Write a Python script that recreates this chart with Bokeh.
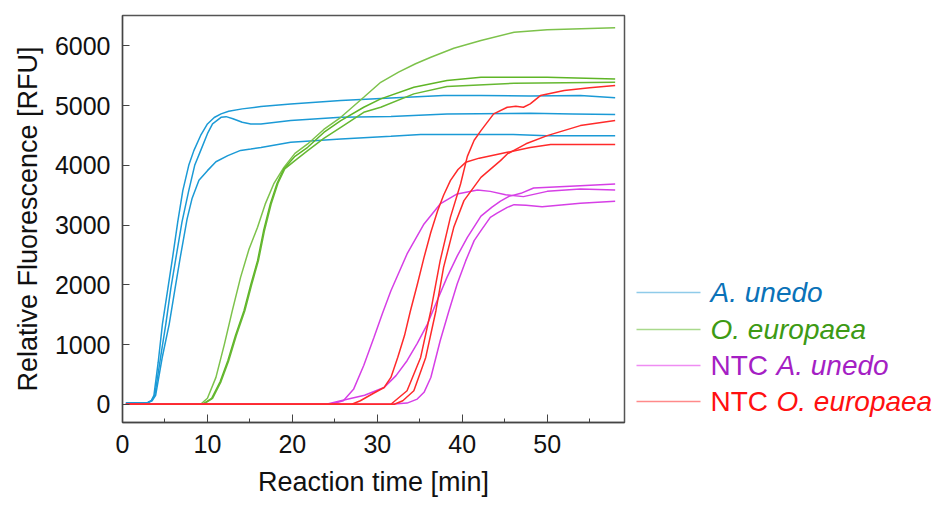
from bokeh.plotting import figure
from bokeh.layouts import row
from bokeh.models import Range1d, SingleIntervalTicker
from bokeh.core.properties import value
from bokeh.embed import file_html
from bokeh.resources import INLINE

# ---- data (time in min, fluorescence in RFU) ----
au1_t = [0.4, 3.0, 3.4, 3.7, 4.2, 4.7, 5.3, 5.9, 6.5, 7.1, 7.8, 8.4, 9.2, 10.0, 10.8, 11.6, 12.5, 14.1, 16.3, 19.8, 25.7, 31.6, 37.8, 42.2, 48.0, 53.9, 58.0]
au1_f = [20, 30, 60, 150, 700, 1343, 1900, 2459, 3050, 3576, 4000, 4246, 4500, 4693, 4800, 4861, 4905, 4945, 4983, 5028, 5084, 5129, 5167, 5168, 5160, 5168, 5130]
au2_t = [0.4, 3.0, 3.4, 3.8, 4.5, 5.1, 5.7, 6.3, 7.0, 7.8, 8.5, 9.2, 10.0, 10.6, 11.6, 12.2, 13.0, 14.1, 15.1, 16.3, 19.8, 25.7, 31.6, 38.2, 48.0, 53.0, 58.0]
au2_f = [20, 30, 60, 150, 800, 1343, 1950, 2459, 3050, 3576, 4000, 4246, 4530, 4693, 4804, 4815, 4780, 4720, 4693, 4693, 4749, 4804, 4816, 4861, 4871, 4860, 4849]
au3_t = [0.4, 3.0, 3.5, 3.9, 4.7, 5.5, 6.2, 6.8, 7.6, 8.2, 9.0, 10.0, 11.0, 12.4, 13.9, 15.1, 16.3, 19.8, 25.7, 31.6, 35.1, 46.0, 50.0, 58.0]
au3_f = [20, 30, 60, 150, 800, 1343, 1950, 2459, 3100, 3450, 3750, 3911, 4060, 4162, 4250, 4274, 4300, 4386, 4442, 4486, 4514, 4514, 4497, 4497]

oe1_t = [0.4, 9.2, 10.0, 11.0, 12.0, 12.9, 13.9, 14.9, 15.9, 16.8, 17.8, 19.0, 20.3, 21.8, 23.7, 25.7, 28.4, 30.4, 32.5, 34.5, 36.3, 39.0, 42.2, 46.1, 50.0, 54.0, 58.0]
oe1_f = [0, 0, 100, 450, 1008, 1550, 2124, 2600, 2962, 3350, 3688, 3966, 4200, 4358, 4600, 4804, 5139, 5390, 5560, 5700, 5809, 5960, 6089, 6228, 6268, 6285, 6301]
oe2_t = [0.4, 9.4, 10.5, 11.5, 12.4, 13.3, 14.3, 15.1, 15.9, 16.6, 17.4, 18.2, 19.0, 20.3, 21.8, 23.7, 25.7, 28.4, 30.4, 34.3, 38.2, 42.2, 50.0, 58.0]
oe2_f = [0, 0, 100, 380, 729, 1150, 1566, 2000, 2404, 2900, 3353, 3700, 3940, 4150, 4302, 4550, 4749, 4972, 5112, 5307, 5419, 5474, 5474, 5447]
oe3_t = [0.4, 9.5, 10.6, 11.6, 12.5, 13.4, 14.4, 15.2, 16.0, 16.7, 17.5, 18.3, 19.1, 20.3, 21.8, 23.7, 25.7, 28.4, 30.4, 34.3, 38.2, 46.1, 58.0]
oe3_f = [0, 0, 100, 380, 729, 1150, 1566, 2000, 2404, 2900, 3353, 3700, 3940, 4080, 4246, 4450, 4637, 4888, 4972, 5196, 5318, 5374, 5390]

ntc_au1_t = [0.4, 24.5, 26.0, 27.2, 28.4, 29.6, 30.6, 31.6, 33.5, 35.5, 37.4, 39.4, 41.8, 43.3, 45.1, 47.2, 50.0, 53.9, 58.0]
ntc_au1_f = [0, 0, 60, 250, 650, 1119, 1520, 1901, 2516, 3018, 3353, 3521, 3588, 3564, 3509, 3476, 3564, 3605, 3588]
ntc_au2_t = [0.4, 24.0, 25.7, 28.5, 30.8, 32.2, 33.5, 34.7, 35.9, 37.0, 38.2, 39.4, 40.6, 42.2, 43.5, 44.5, 45.5, 46.9, 48.4, 53.9, 58.0]
ntc_au2_f = [0, 0, 59, 150, 281, 480, 729, 1020, 1343, 1720, 2124, 2480, 2794, 3150, 3300, 3400, 3480, 3531, 3621, 3660, 3688]
ntc_au3_t = [0.4, 31.6, 33.5, 34.7, 35.5, 36.3, 37.4, 38.4, 39.4, 40.4, 41.4, 42.2, 43.3, 44.1, 45.3, 46.1, 47.5, 49.4, 53.9, 58.0]
ntc_au3_f = [0, 0, 20, 87, 200, 449, 1064, 1550, 2013, 2400, 2739, 2906, 3129, 3200, 3296, 3342, 3330, 3308, 3364, 3397]

ntc_oe1_t = [0.4, 31.6, 33.5, 35.1, 36.3, 37.4, 38.6, 39.8, 40.6, 41.4, 42.2, 43.7, 45.3, 46.3, 47.2, 48.0, 49.2, 52.0, 55.0, 58.0]
ntc_oe1_f = [0, 0, 226, 784, 1566, 2404, 3129, 3688, 4150, 4420, 4581, 4861, 4972, 4990, 4972, 5028, 5168, 5251, 5300, 5335]
ntc_oe2_t = [0.4, 32.0, 33.0, 34.3, 35.7, 36.9, 37.8, 39.0, 40.2, 42.2, 44.5, 45.3, 47.5, 50.0, 53.9, 58.0]
ntc_oe2_f = [0, 0, 60, 226, 784, 1566, 2291, 2962, 3409, 3799, 4079, 4191, 4360, 4497, 4665, 4749]
ntc_oe3_t = [0.4, 27.0, 28.0, 29.5, 30.8, 31.6, 32.4, 33.2, 33.9, 34.7, 35.5, 36.3, 37.1, 37.8, 38.6, 39.5, 40.4, 42.0, 45.3, 48.0, 50.4, 58.0]
ntc_oe3_f = [0, 0, 59, 180, 281, 450, 784, 1150, 1566, 2000, 2459, 2880, 3241, 3500, 3744, 3930, 4050, 4120, 4218, 4300, 4347, 4347]

leg_prefix = ["", "", "NTC ", "NTC "]
leg_names = ["A. unedo", "O. europaea", "A. unedo", "O. europaea"]

FONT = "Liberation Sans"
H = 505
BT, BB = 15, 83  # top / bottom borders (frame spans y 15..422)
LW = 311

p = figure(width=632, height=H, x_range=Range1d(0, 59.1), y_range=Range1d(-305, 6508),
           output_backend="svg", toolbar_location=None,
           min_border_left=122, min_border_right=8, min_border_top=BT, min_border_bottom=BB)
p.xgrid.visible = False
p.ygrid.visible = False
p.outline_line_color = "#555555"
p.outline_line_width = 1.5

p.xaxis.ticker = SingleIntervalTicker(interval=10, num_minor_ticks=2)
p.yaxis.ticker = SingleIntervalTicker(interval=1000, num_minor_ticks=0)
for ax in (p.xaxis[0], p.yaxis[0]):
    ax.axis_line_color = "#444444"
    ax.axis_line_width = 1.3
    ax.major_tick_line_color = "#444444"
    ax.minor_tick_line_color = "#444444"
    ax.major_tick_out = 0
    ax.minor_tick_out = 0
    ax.minor_tick_in = 4
    ax.major_label_text_font = FONT
    ax.major_label_text_font_size = "25px"
    ax.major_label_text_color = "#111111"
    ax.axis_label_text_font = FONT
    ax.axis_label_text_font_size = "27px"
    ax.axis_label_text_font_style = "normal"
    ax.axis_label_text_color = "#111111"
    ax.major_label_standoff = 12
p.xaxis.major_tick_in = 8
p.yaxis.major_tick_in = 7
p.xaxis.axis_label = "Reaction time [min]"
p.yaxis.axis_label = "Relative Fluorescence [RFU]"
p.xaxis.axis_label_standoff = 11
p.yaxis.axis_label_standoff = 9

blue = "#1b9ad6"
series = [
    (au1_t, au1_f, blue), (au2_t, au2_f, blue), (au3_t, au3_f, blue),
    (oe1_t, oe1_f, "#7dc24b"), (oe2_t, oe2_f, "#5fb526"), (oe3_t, oe3_f, "#66b832"),
    (ntc_au1_t, ntc_au1_f, "#d63fe6"), (ntc_au2_t, ntc_au2_f, "#d63fe6"), (ntc_au3_t, ntc_au3_f, "#d63fe6"),
    (ntc_oe1_t, ntc_oe1_f, "#ff2a2a"), (ntc_oe2_t, ntc_oe2_f, "#ff2a2a"), (ntc_oe3_t, ntc_oe3_f, "#ff2a2a"),
]
for t, f, c in series:
    p.line(t, f, line_color=c, line_width=1.5)

# ---- legend panel (coordinates equal page pixels) ----
lf = figure(width=LW, height=H, x_range=Range1d(632, 632 + LW), y_range=Range1d(15 + (H - BT - BB), 15),
            output_backend="svg", toolbar_location=None,
            min_border_left=0, min_border_right=0, min_border_top=BT, min_border_bottom=BB,
            x_axis_type=None, y_axis_type=None)
lf.grid.visible = False
lf.outline_line_color = None

leg_rows = [292, 329, 365, 401]
leg_line_colors = ["#8fcbe9", "#a9d98c", "#ef8cf3", "#ff8a8a"]
leg_text_colors = ["#0a72b8", "#3d9a14", "#a51fc4", "#ff1010"]

for yy, lc, pre, nm, tc in zip(leg_rows, leg_line_colors, leg_prefix, leg_names, leg_text_colors):
    lf.line([636, 700], [yy, yy], line_color=lc, line_width=1.5)
    x0 = 710
    if pre:
        lf.text([x0], [yy], text=[pre], text_font=value(FONT), text_font_size="28px",
                text_color=tc, text_baseline="middle", text_align="left")
        x0 = 776
    lf.text([x0], [yy], text=[nm], text_font=value(FONT), text_font_size="28px",
            text_font_style="italic", text_color=tc, text_baseline="middle", text_align="left")

layout = row(p, lf)
open("out.html", "w").write(file_html(layout, INLINE))
